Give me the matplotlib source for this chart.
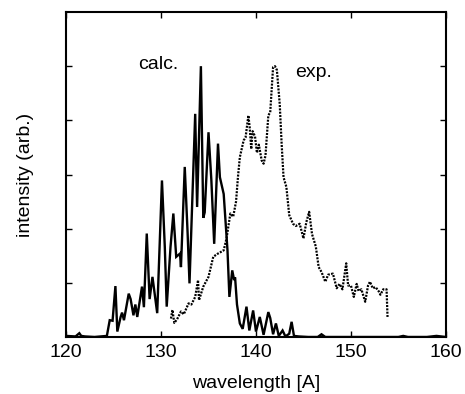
import matplotlib
matplotlib.use("Agg")
import matplotlib.pyplot as plt

# calculated spectrum (solid)
calc_x = [120.0, 121.0, 121.4, 121.6, 122.0, 123.0, 124.3, 124.6, 124.9, 125.2, 125.4, 125.75, 125.9,
          126.1, 126.6, 126.8, 127.1, 127.3, 127.5, 128.0, 128.2, 128.5, 128.8, 129.1, 129.6,
          130.1, 130.4, 130.6, 131.0, 131.3, 131.6, 132.0, 132.1, 132.5, 132.8, 133.0, 133.6,
          133.8, 134.2, 134.45, 134.6, 135.0, 135.3, 135.6, 136.0, 136.2, 136.6, 137.0, 137.2,
          137.5, 137.7, 137.8, 138.0, 138.3, 138.6, 139.0, 139.3, 139.7, 140.0,
          140.4, 140.8, 141.3, 141.5, 141.8, 142.1, 142.4, 142.8, 143.1, 143.5, 143.75, 144.0,
          144.5, 145.5, 146.5, 146.9, 147.3, 148.0, 150.0, 152.0, 155.0, 155.5, 156.0, 158.0,
          159.0, 160.0]
calc_y = [0.02, 0.01, 0.07, 0.02, 0.01, 0.0, 0.02, 0.31, 0.3, 0.94, 0.1, 0.37, 0.45,
          0.31, 0.80, 0.7, 0.4, 0.6, 0.37, 0.93, 0.55, 1.91, 0.7, 1.11, 0.44,
          2.89, 1.66, 0.56, 1.66, 2.28, 1.48, 1.54, 1.29, 3.14, 1.92, 0.99, 4.12,
          2.4, 5.0, 2.2, 2.3, 3.78, 2.9, 1.72, 3.57, 2.95, 2.64, 1.6, 0.74,
          1.23, 1.05, 1.1, 0.6, 0.25, 0.15, 0.56, 0.12, 0.49, 0.1,
          0.37, 0.04, 0.46, 0.35, 0.05, 0.25, 0.02, 0.12, 0.01, 0.06, 0.28, 0.02,
          0.01, 0.0, 0.0, 0.05, 0.0, 0.0, 0.0, 0.0, 0.0, 0.02, 0.0, 0.0,
          0.02, 0.0]

# experimental spectrum (dotted)
exp_x = [131.05, 131.2, 131.4, 131.7, 132.1, 132.4, 132.9, 133.2, 133.6, 133.9, 134.0, 134.45,
         135.0, 135.5, 135.9, 136.6, 136.9, 137.3, 137.6, 137.9, 138.1, 138.3, 138.7, 138.9,
         139.2, 139.35, 139.5, 139.65, 139.9, 140.1, 140.3, 140.6, 140.8, 141.0, 141.3, 141.5,
         141.8, 142.0, 142.2, 142.5, 142.7, 142.9, 143.2, 143.5, 143.9, 144.2, 144.6, 145.0,
         145.3, 145.6, 145.9, 146.3, 146.6, 146.9, 147.3, 147.6, 148.1, 148.5, 148.8, 149.1,
         149.5, 149.7, 150.0, 150.3, 150.6, 150.8, 151.1, 151.5, 151.8, 152.0, 152.3, 152.6,
         152.9, 153.1, 153.4, 153.75, 153.85]
exp_y = [0.34, 0.5, 0.26, 0.33, 0.47, 0.42, 0.62, 0.6, 0.74, 1.05, 0.68, 0.93,
         1.11, 1.48, 1.53, 1.6, 1.82, 2.28, 2.22, 2.5, 2.95, 3.32, 3.63, 3.68,
         4.09, 3.85, 3.47, 3.8, 3.7, 3.4, 3.55, 3.26, 3.2, 3.35, 4.09, 4.15,
         4.98, 5.0, 4.93, 4.3, 3.57, 2.95, 2.77, 2.25, 2.09, 2.05, 2.09, 1.82,
         2.12, 2.31, 1.9, 1.67, 1.29, 1.2, 1.02, 1.15, 1.17, 0.9, 0.98, 0.88,
         1.36, 0.95, 0.95, 0.74, 0.98, 0.85, 0.88, 0.65, 0.95, 1.02, 0.9, 0.92,
         0.85, 0.78, 0.88, 0.88, 0.37]

x_ticks = [120, 130, 140, 150, 160]
y_ticks = [1, 2, 3, 4, 5]

plt.rcParams['font.family'] = ['Liberation Sans', 'DejaVu Sans']

fig = plt.figure(figsize=(4.65, 3.94), dpi=100)
ax = fig.add_axes([0.142, 0.1447, 0.817, 0.8248])

ax.plot(calc_x, calc_y, color='black', lw=1.7, solid_joinstyle='miter')
ax.plot(exp_x, exp_y, color='black', lw=1.6, linestyle=(0, (0.9, 0.6)))

ax.set_xlim(120, 160)
ax.set_ylim(0, 6)
ax.set_xticks(x_ticks)
ax.set_xticklabels([str(t) for t in x_ticks], fontsize=14)
ax.set_yticks(y_ticks)
ax.set_yticklabels([])
ax.tick_params(direction='in', length=4, width=1, top=True, right=True, pad=5)
for s in ax.spines.values():
    s.set_linewidth(1.5)

ax.set_xlabel('wavelength [A]', fontsize=14, labelpad=10)
ax.set_ylabel('intensity (arb.)', fontsize=14, labelpad=18)

ax.text(129.7, 5.04, 'calc.', fontsize=14, ha='center', va='center')
ax.text(146.1, 4.88, 'exp.', fontsize=14, ha='center', va='center')

fig.savefig('out.png', dpi=100)
